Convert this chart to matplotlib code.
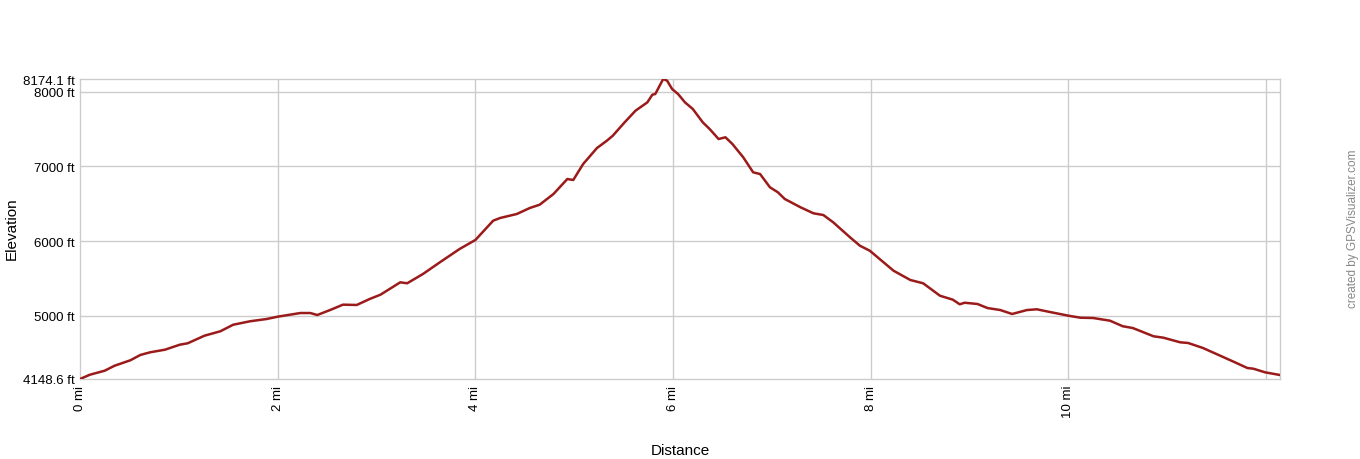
import matplotlib
matplotlib.use("Agg")
import matplotlib.pyplot as plt

plt.rcParams['font.family'] = ['Liberation Sans', 'DejaVu Sans']

# elevation profile
dist_mi = [0.00, 0.10, 0.25, 0.35, 0.51, 0.61, 0.71, 0.86, 1.01, 1.09, 1.26, 1.42,
           1.55, 1.72, 1.89, 2.00, 2.23, 2.33, 2.40, 2.53, 2.66, 2.80, 2.93, 3.04,
           3.24, 3.31, 3.47, 3.64, 3.84, 4.00, 4.18, 4.25, 4.42, 4.55, 4.65, 4.79,
           4.93, 4.99, 5.09, 5.23, 5.33, 5.39, 5.51, 5.62, 5.74, 5.79, 5.82, 5.90,
           5.94, 5.99, 6.05, 6.12, 6.20, 6.30, 6.37, 6.46, 6.53, 6.60, 6.71, 6.81,
           6.88, 6.98, 7.06, 7.13, 7.29, 7.42, 7.52, 7.62, 7.79, 7.89, 7.99, 8.23,
           8.40, 8.53, 8.70, 8.83, 8.90, 8.95, 9.08, 9.18, 9.31, 9.43, 9.58, 9.68,
           9.81, 10.00, 10.12, 10.25, 10.42, 10.55, 10.65, 10.86, 10.96, 11.13,
           11.21, 11.36, 11.67, 11.81, 11.87, 11.99, 12.14]
elev_ft = [4148.6, 4206, 4260, 4327, 4400, 4471, 4507, 4542, 4609, 4628, 4730, 4789,
           4877, 4923, 4954, 4985, 5034, 5034, 5007, 5074, 5146, 5142, 5222, 5280,
           5446, 5433, 5558, 5714, 5893, 6014, 6273, 6309, 6363, 6443, 6487, 6631,
           6832, 6819, 7033, 7248, 7346, 7413, 7593, 7749, 7861, 7963, 7973, 8174.1,
           8151, 8040, 7973, 7861, 7771, 7593, 7503, 7369, 7392, 7302, 7123, 6922,
           6899, 6721, 6654, 6564, 6452, 6372, 6349, 6251, 6050, 5937, 5870, 5602,
           5477, 5433, 5266, 5213, 5151, 5172, 5155, 5101, 5074, 5021, 5074, 5084,
           5048, 4998, 4971, 4967, 4931, 4856, 4833, 4722, 4703, 4641,
           4632, 4565, 4381, 4296, 4287, 4238, 4202]

x_ticks = [0, 2, 4, 6, 8, 10, 12]
x_labels = ["0 mi", "2 mi", "4 mi", "6 mi", "8 mi", "10 mi", ""]
y_ticks = [4148.6, 5000, 6000, 7000, 8000, 8174.1]
y_labels = ["4148.6 ft", "5000 ft", "6000 ft", "7000 ft", "8000 ft", "8174.1 ft"]

fig = plt.figure(figsize=(13.6, 4.6), dpi=100)
ax = fig.add_axes([80 / 1360, 1 - 380 / 460, 1200 / 1360, 300 / 460])

ax.plot(dist_mi, elev_ft, color="#9b1a1a", linewidth=1.8, zorder=3)

ax.set_xlim(0, dist_mi[-1])
ax.set_ylim(min(elev_ft), max(elev_ft))

ax.set_xticks(x_ticks)
ax.set_xticklabels(x_labels, rotation=90, fontsize=9.5)
ax.set_yticks(y_ticks)
ax.set_yticklabels(y_labels, fontsize=9.5)
ax.tick_params(length=0, pad=4)

# grid only on the round values
for v in [5000, 6000, 7000, 8000]:
    ax.axhline(v, color="#cccccc", linewidth=1, zorder=1)
for v in x_ticks[1:]:
    ax.axvline(v, color="#cccccc", linewidth=1, zorder=1)
for s in ax.spines.values():
    s.set_color("#cccccc")
    s.set_linewidth(1)

fig.text(680 / 1360, 1 - 451 / 460, "Distance", ha="center", va="center", fontsize=11)
fig.text(12 / 1360, 1 - 229 / 460, "Elevation", ha="center", va="center",
         rotation=90, fontsize=11)
fig.text(1353 / 1360, 1 - 229 / 460, "created by GPSVisualizer.com", ha="center",
         va="center", rotation=90, fontsize=8.5, color="#888888")

fig.savefig("out.png", dpi=100)
